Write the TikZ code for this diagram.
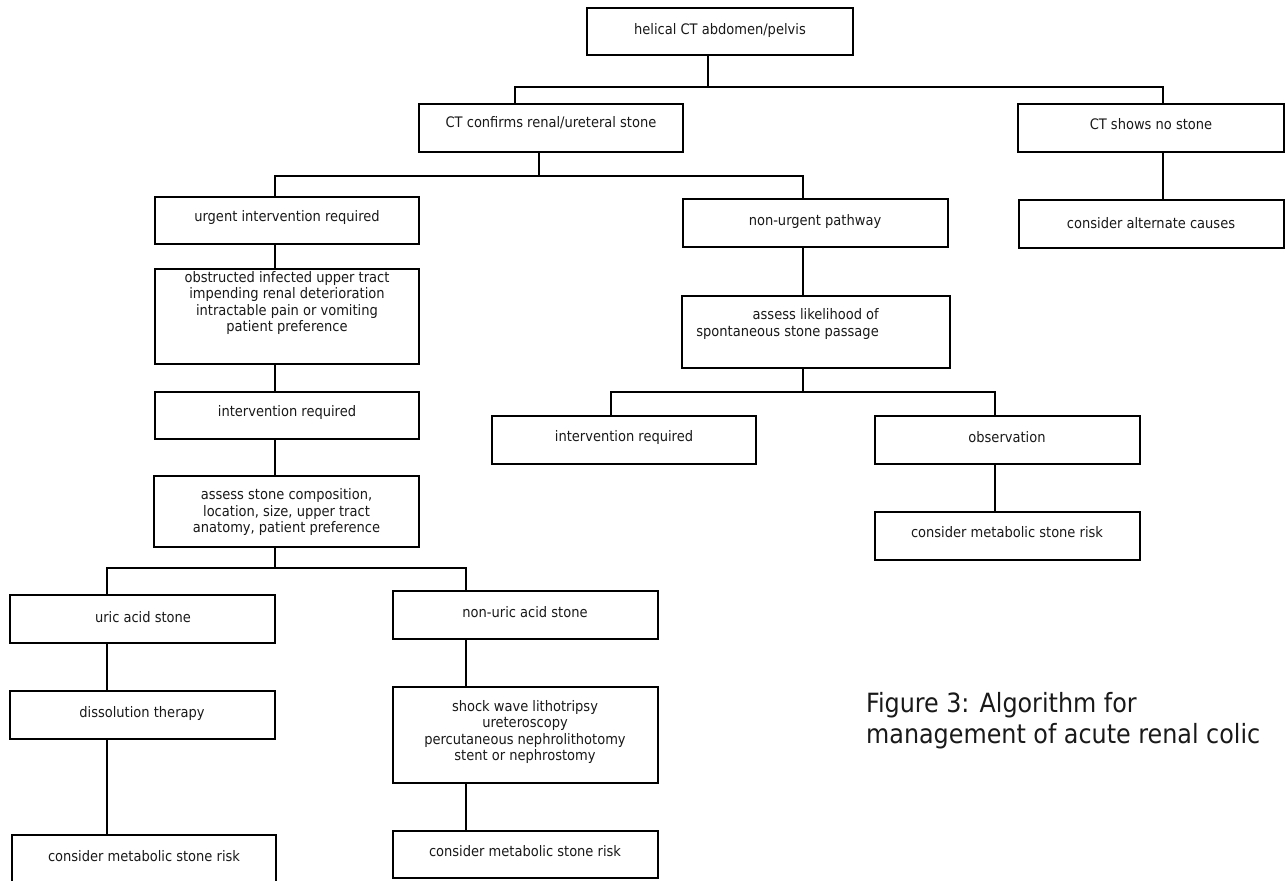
\documentclass[tikz,border=0pt]{standalone}
\usepackage{fontspec}
\setmainfont{DejaVu Sans Condensed}
\newcommand\bx[5]{\node[box, minimum width={#4-#2}, minimum height={#5-#3}] (#1) at ({(#2+#4)/2},{(#3+#5)/2}) {};}
\begin{document}
\begin{tikzpicture}[x=1pt,y=-1pt,
  box/.style={draw, line width=1.3pt, inner sep=0pt, fill=white},
  txt/.style={inner sep=0pt, align=center, font=\fontsize{14.5}{16.5}\selectfont, text=black!90},
  conn/.style={line width=1.3pt},
  captxt/.style={inner sep=0pt, anchor=base west, font=\fontsize{26.5}{31}\selectfont, text=black!90}]
\useasboundingbox (0,0) rectangle (1286,881);
% boxes
\bx{helical}{587}{8}{853}{55}
\bx{ctyes}{419}{104}{683}{152}
\bx{ctno}{1018}{104}{1284}{152}
\bx{alt}{1019}{200}{1284}{248}
\bx{urgent}{155}{197}{419}{244}
\bx{nonurg}{683}{199}{948}{247}
\bx{obst}{155}{269}{419}{364}
\bx{intl}{155}{392}{419}{439}
\bx{assess}{154}{476}{419}{547}
\bx{likely}{682}{296}{950}{368}
\bx{intm}{492}{416}{756}{464}
\bx{obs}{875}{416}{1140}{464}
\bx{metr}{875}{512}{1140}{560}
\bx{uric}{10}{595}{275}{643}
\bx{nonuric}{393}{591}{658}{639}
\bx{diss}{10}{691}{275}{739}
\bx{shock}{393}{687}{658}{783}
\bx{metl}{12}{835}{276}{886}
\bx{metm}{393}{831}{658}{878}
% texts
\node[txt] (helical-t) at (720,30) {helical CT abdomen/pelvis};
\node[txt] (ctyes-t) at (551,123) {CT confirms renal/ureteral stone};
\node[txt] (ctno-t) at (1151,124) {CT shows no stone};
\node[txt] (alt-t) at (1151,223) {consider alternate causes};
\node[txt] (urgent-t) at (287,217) {urgent intervention required};
\node[txt] (nonurg-t) at (815,221) {non-urgent pathway};
\node[txt] (obst-t) at (287,303) {obstructed infected upper tract\\impending renal deterioration\\intractable pain or vomiting\\patient preference};
\node[txt] (intl-t) at (287,412) {intervention required};
\node[txt] (assess-t) at (286.5,512) {assess stone composition,\\location, size, upper tract\\anatomy, patient preference};
\node[txt, align=right, anchor=east] (likely-t) at (879,324) {assess likelihood of\\spontaneous stone passage};
\node[txt] (intm-t) at (624,437) {intervention required};
\node[txt] (obs-t) at (1007,437) {observation};
\node[txt] (metr-t) at (1007,532) {consider metabolic stone risk};
\node[txt] (uric-t) at (143,617) {uric acid stone};
\node[txt] (nonuric-t) at (525,612) {non-uric acid stone};
\node[txt] (diss-t) at (142,713) {dissolution therapy};
\node[txt] (shock-t) at (525,732) {shock wave lithotripsy\\ureteroscopy\\percutaneous nephrolithotomy\\stent or nephrostomy};
\node[txt] (metl-t) at (144,856) {consider metabolic stone risk};
\node[txt] (metm-t) at (525,851) {consider metabolic stone risk};
% junctions
\coordinate (j1) at (708,87); \coordinate (j1l) at (515,87); \coordinate (j1r) at (1163,87);
\coordinate (j2) at (539,176); \coordinate (j2l) at (275,176); \coordinate (j2r) at (803,176);
\coordinate (j3) at (275,568); \coordinate (j3l) at (107,568); \coordinate (j3r) at (466,568);
\coordinate (j4) at (803,392); \coordinate (j4l) at (611,392); \coordinate (j4r) at (995,392);
% connectors
\draw[conn] (helical.south -| j1) -- (j1);
\draw[conn] (ctyes.north -| j1l) -- (j1l) -- (j1r) -- (ctno.north -| j1r);
\draw[conn] (ctno.south -| j1r) -- (alt.north -| j1r);
\draw[conn] (ctyes.south -| j2) -- (j2);
\draw[conn] (urgent.north -| j2l) -- (j2l) -- (j2r) -- (nonurg.north -| j2r);
\draw[conn] (urgent.south -| j2l) -- (obst.north -| j2l);
\draw[conn] (obst.south -| j2l) -- (intl.north -| j2l);
\draw[conn] (intl.south -| j2l) -- (assess.north -| j2l);
\draw[conn] (assess.south -| j3) -- (j3);
\draw[conn] (uric.north -| j3l) -- (j3l) -- (j3r) -- (nonuric.north -| j3r);
\draw[conn] (uric.south -| j3l) -- (diss.north -| j3l);
\draw[conn] (diss.south -| j3l) -- (metl.north -| j3l);
\draw[conn] (nonuric.south -| j3r) -- (shock.north -| j3r);
\draw[conn] (shock.south -| j3r) -- (metm.north -| j3r);
\draw[conn] (nonurg.south -| j2r) -- (likely.north -| j2r);
\draw[conn] (likely.south -| j4) -- (j4);
\draw[conn] (intm.north -| j4l) -- (j4l) -- (j4r) -- (obs.north -| j4r);
\draw[conn] (obs.south -| j4r) -- (metr.north -| j4r);
% caption
\node[captxt] (cap1) at (866,712) {Figure 3: Algorithm for};
\node[captxt] (cap2) at (866,743) {management of acute renal colic};
\end{tikzpicture}
\end{document}
